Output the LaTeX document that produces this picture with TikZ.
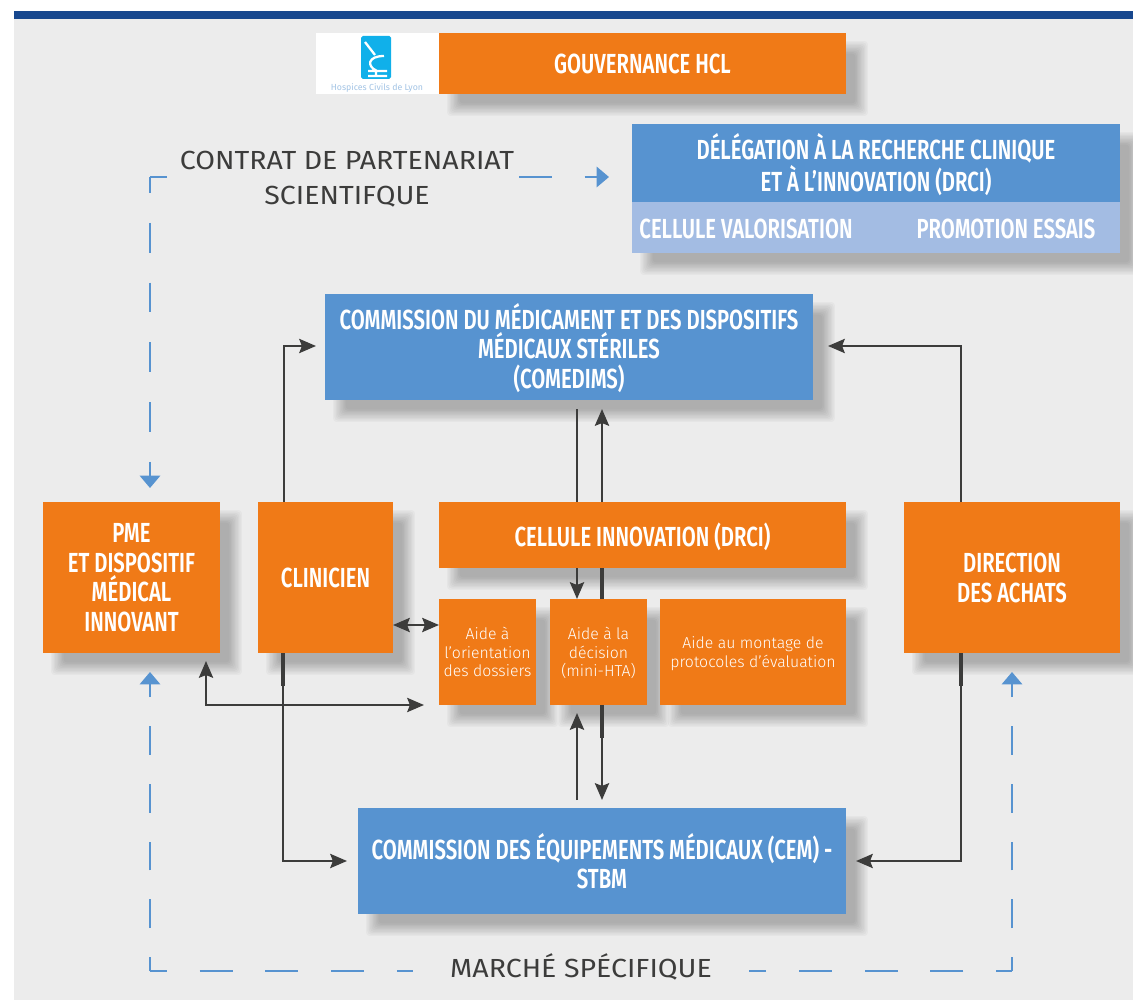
\documentclass[tikz,border=0pt]{standalone}
\usepackage{fontspec}
\setmainfont{Fira Sans}
\newfontfamily\titrefont[FakeStretch=0.735]{Fira Sans SemiBold}
\newfontfamily\aidefont[FakeStretch=1.0]{Fira Sans Light}
\newfontfamily\legendefont[FakeStretch=1.09]{Fira Sans}
\usetikzlibrary{arrows.meta,backgrounds,calc}
\definecolor{fondgris}{HTML}{ECECEC}
\definecolor{bandeau}{HTML}{17478E}
\definecolor{orangehcl}{HTML}{F07A17}
\definecolor{bleuhcl}{HTML}{5793D0}
\definecolor{bleuclair}{HTML}{A3BCE3}
\definecolor{fleche}{HTML}{3C3C3B}
\definecolor{cyanlogo}{HTML}{10B0EA}
\tikzset{
  boite/.style={inner sep=0pt, outer sep=0pt, text=white, align=center, text depth=-1pt,
    font=\titrefont\fontsize{15.7}{16.8}\selectfont},
  orangebox/.style={boite, fill=orangehcl, text depth=-2pt},
  bleubox/.style={boite, fill=bleuhcl},
  aidebox/.style={orangebox, text depth=-1pt, font=\aidefont\fontsize{9}{10.6}\selectfont},
  pointe/.tip={Stealth[length=9.5pt,width=8pt,inset=1.5pt]},
  lien/.style={draw=fleche, line width=1.6pt, -pointe},
  liendouble/.style={draw=fleche, line width=1.6pt, pointe-pointe},
  bout/.style={draw=fleche, line width=2.1pt},
  pointebleue/.tip={Triangle[length=7pt,width=11.5pt]},
  tiretsv/.style={draw=bleuhcl, line width=1.3pt, -pointebleue, dash pattern=on 16.44pt off 16.44pt},
  tiretsh/.style={draw=bleuhcl, line width=1.3pt, dash pattern=on 18.7pt off 18.7pt},
  legende/.style={text=fleche, align=center, font=\legendefont\fontsize{14.9}{20.2}\selectfont}
}
% ombre floue : pile de rectangles
\newcommand{\ombre}[2]{
  \foreach \i in {0,...,9}{
    \pgfmathsetmacro{\e}{7-1.4*\i}
    \fill[black, opacity=0.028, rounded corners=2pt] ($(#1)+(15-\e,15-\e)$) rectangle ($(#2)+(15+\e,15+\e)$);
  }
}
\begin{document}
\begin{tikzpicture}[x=0.02cm,y=-0.02cm]
  \useasboundingbox (0,0) rectangle (1133,1000);
  \begin{scope}[on background layer]
    \fill[white] (0,0) rectangle (1133,1000);
    \fill[fondgris] (14,19) rectangle (1133,1000);
    \fill[bandeau] (14,11) rectangle (1133,19);
  \end{scope}

  % logo
  \fill[white] (316,33) rectangle (439,94);
  \fill[cyanlogo, rounded corners=1pt] (361,36) rectangle (391,79);
  \draw[white, line width=1.3pt] (365,42) -- (375,55) (384,56) .. controls (368,56) and (366,66) .. (377,71) (368,71) -- (387,71) (368,76) -- (387,76) (376,71) -- (376,76);
  \node[text=bleuhcl!55, inner sep=0pt, font=\fontsize{5}{6}\selectfont] (logotexte) at (377,88) {Hospices Civils de Lyon};

  % boites du haut
  \node[orangebox, text depth=-3pt, minimum width=8.14cm, minimum height=1.22cm] (gouvernance) at (642.5,63.5) {GOUVERNANCE HCL};
  \node[bleubox, text depth=0.5pt, minimum width=9.76cm, minimum height=1.56cm] (drci) at (876,163) {DÉLÉGATION À LA RECHERCHE CLINIQUE\\ET À L’INNOVATION (DRCI)};
  \node[boite, fill=bleuclair, minimum width=9.76cm, minimum height=1.02cm] (cellules) at (876,227.5) {};
  \node[inner sep=0pt, text=white, font=\titrefont\fontsize{15.7}{16.8}\selectfont] (valorisation) at (746,229) {CELLULE VALORISATION};
  \node[inner sep=0pt, text=white, font=\titrefont\fontsize{15.7}{16.8}\selectfont] (promotion) at (1006,229) {PROMOTION ESSAIS};

  % liens derriere les boites
  \coordinate (comedimsg) at (316,346);
  \coordinate (comedimsd) at (828,346);
  \coordinate (cemg) at (347,861);
  \coordinate (cemd) at (856,861);
  \coordinate (descente) at (577,409);
  \coordinate (montee) at (602,409);
  \coordinate (montee2) at (577,800);
  \coordinate (descente2) at (602,800);
  \coordinate (aidebas) at (577,713);
  \coordinate (pmebas) at (206,661);
  \coordinate (aidegauche) at (424,705);
  \draw[lien] (284,502) -- (284,346) -- (comedimsg);
  \draw[lien] (961,502) -- (961,346) -- (comedimsd);
  \draw[lien] (descente) -- (577,599);
  \draw[lien] (602,600) -- (montee);
  \draw[lien] (602,700) -- (descente2);
  \draw[lien] (montee2) -- (aidebas);
  \draw[lien] (283,653) -- (283,861) -- (cemg);
  \draw[lien] (961,653) -- (961,861) -- (cemd);
  \draw[liendouble] (pmebas) -- (206,705) -- (aidegauche);

  % boites centrales
  \node[bleubox, text depth=1.5pt, minimum width=9.76cm, minimum height=2.12cm] (comedims) at (569,347) {COMMISSION DU MÉDICAMENT ET DES DISPOSITIFS\\MÉDICAUX STÉRILES\\(COMEDIMS)};
  \node[orangebox, minimum width=3.54cm, minimum height=3.02cm] (pme) at (131.5,577.5) {PME\\ET DISPOSITIF\\MÉDICAL\\INNOVANT};
  \node[orangebox, minimum width=2.7cm, minimum height=3.02cm] (clinicien) at (325.5,577.5) {CLINICIEN};
  \node[orangebox, text depth=-1pt, minimum width=8.14cm, minimum height=1.32cm] (innovation) at (642.5,535) {CELLULE INNOVATION (DRCI)};
  \node[aidebox, minimum width=1.94cm, minimum height=2.12cm] (orientation) at (487.5,652) {Aide à\\l’orientation\\des dossiers};
  \node[aidebox, minimum width=1.94cm, minimum height=2.12cm] (decision) at (598.5,652) {Aide à la\\décision\\(mini-HTA)};
  \node[aidebox, minimum width=3.72cm, minimum height=2.12cm] (protocoles) at (753,652) {Aide au montage de\\protocoles d’évaluation};
  \node[orangebox, minimum width=4.32cm, minimum height=3.02cm] (achats) at (1012,577.5) {DIRECTION\\DES ACHATS};
  \node[bleubox, minimum width=9.76cm, minimum height=2.12cm] (cem) at (602,861) {COMMISSION DES ÉQUIPEMENTS MÉDICAUX (CEM) -\\STBM};
  \draw[liendouble] (clinicien.east |- 0,625) -- (orientation.west |- 0,625);
  \draw[bout] (283,653) -- (283,686);
  \draw[bout] (961,653) -- (961,686);
  \draw[bout] (602,705) -- (602,738);
  \draw[bout] (602,568) -- (602,599);

  % ombres
  \begin{scope}[on background layer]
    \ombre{drci.north west}{cellules.south east}
    \foreach \n in {gouvernance,comedims,pme,clinicien,innovation,orientation,decision,protocoles,achats,cem}{
      \ombre{\n.north west}{\n.south east}
    }
  \end{scope}

  % contrat et marche
  \node[legende] (contrat) at (347,179) {CONTRAT DE PARTENARIAT\\SCIENTIFQUE};
  \node[legende, inner xsep=21pt, inner ysep=0pt] (marche) at (581,967) {MARCHÉ SPÉCIFIQUE};
  \coordinate (coinhaut) at (150,177);
  \coordinate (coinbas) at (150,971);
  \coordinate (coindroit) at (1012,971);
  \coordinate (contratg) at (167,177);
  \coordinate (contratd) at (519,177);
  \coordinate (versdrci) at (609,177);
  \coordinate (pmehaut) at (150,488);
  \coordinate (pmesous) at (150,672);
  \coordinate (achatssous) at (1012,672);
  \draw[tiretsv, dash pattern=on 17pt off 17pt, dash phase=7.9pt] (coinhaut) -- (pmehaut);
  \draw[tiretsv, dash phase=8.5pt] (coinbas) -- (pmesous);
  \draw[tiretsv, dash phase=8.5pt] (coindroit) -- (achatssous);
  \draw[tiretsh] (contratg) -- (coinhaut);
  \draw[tiretsh, -pointebleue] (contratd) -- (versdrci);
  \draw[tiretsh, dash phase=9.1pt] (coinbas) -- (marche.west |- coinbas);
  \draw[tiretsh, dash phase=9.7pt] (coindroit) -- (marche.east |- coindroit);
\end{tikzpicture}
\end{document}
